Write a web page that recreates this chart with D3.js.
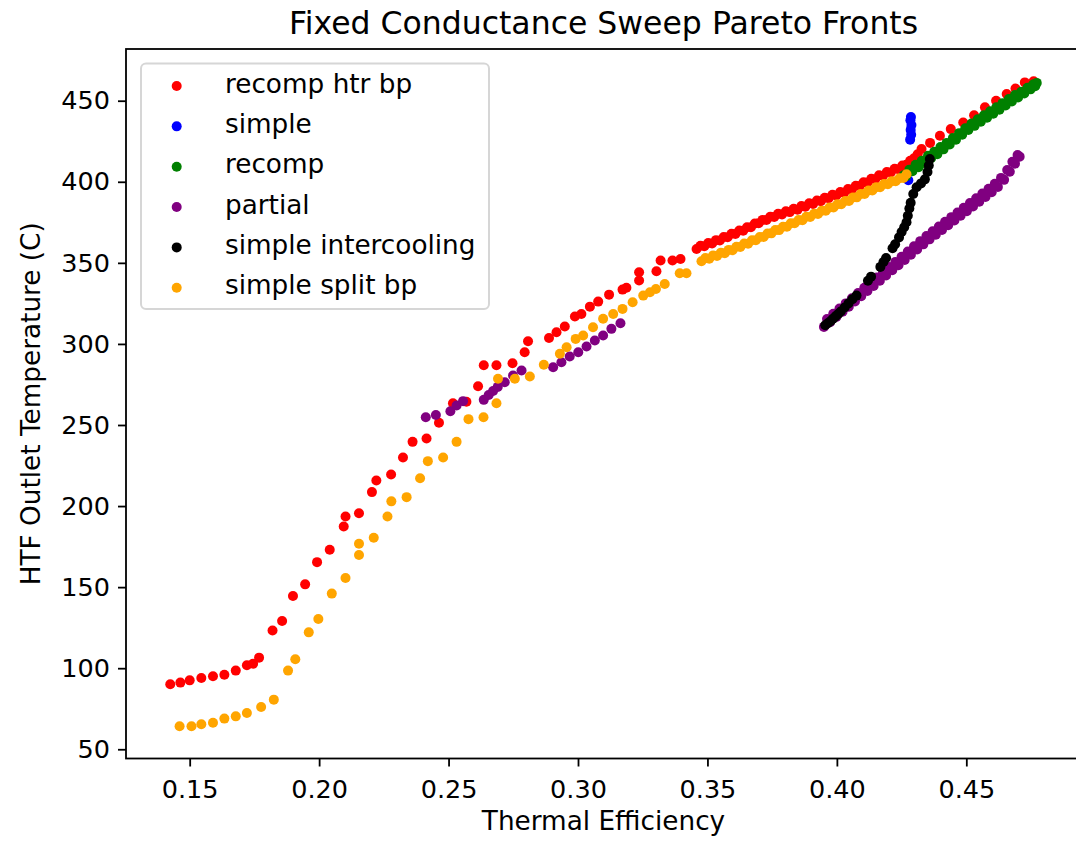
<!DOCTYPE html>
<html>
<head>
<meta charset="utf-8">
<script src="https://cdnjs.cloudflare.com/ajax/libs/d3/7.8.5/d3.min.js"></script>
<style>
  body { margin: 0; background: #fff; }
  svg text { font-family: "DejaVu Sans", sans-serif; fill: #000; }
</style>
</head>
<body>
<div id="chart"></div>
<script>
// Legend order = plotting order
var seriesNames = ["recomp htr bp", "simple", "recomp", "partial", "simple intercooling", "simple split bp"];
var seriesColors = ["red", "blue", "green", "purple", "black", "orange"];

var xTicks = [0.15, 0.20, 0.25, 0.30, 0.35, 0.40, 0.45];
var yTicks = [50, 100, 150, 200, 250, 300, 350, 400, 450];

// [thermal efficiency, HTF outlet temperature]
var recompHtrBp = [
    [0.1425, 90.1], [0.1464, 91.1], [0.1500, 92.5], [0.1545, 93.9], [0.1590, 95.0], [0.1634, 96.0],
    [0.1678, 98.5], [0.1721, 101.8], [0.1745, 102.8], [0.1768, 106.5], [0.1820, 123.3], [0.1857, 129.1],
    [0.1899, 144.5], [0.1946, 151.7], [0.1992, 165.4], [0.2041, 173.1], [0.2095, 187.4], [0.2102, 193.6],
    [0.2154, 195.6], [0.2204, 208.6], [0.2221, 215.8], [0.2278, 219.5], [0.2324, 230.0], [0.2361, 239.6],
    [0.2415, 241.7], [0.2463, 251.4], [0.2517, 263.4], [0.2569, 264.3], [0.2614, 273.9], [0.2636, 286.9],
    [0.2685, 286.9], [0.2747, 288.1], [0.2794, 294.9], [0.2807, 301.7], [0.2888, 303.7], [0.2917, 307.2],
    [0.2949, 310.7], [0.2988, 316.9], [0.3013, 318.5], [0.3046, 323.0], [0.3078, 326.1], [0.3120, 330.4],
    [0.3172, 333.5], [0.3187, 334.6], [0.3236, 339.1], [0.3236, 344.2], [0.3303, 344.8], [0.3319, 351.4],
    [0.3365, 351.4], [0.3396, 352.4],
    [0.3458, 358.6], [0.3473, 360.5], [0.3488, 360.3], [0.3503, 362.2], [0.3518, 362.0], [0.3533, 364.0],
    [0.3548, 363.8], [0.3563, 366.0], [0.3578, 365.8], [0.3593, 368.0], [0.3608, 367.8], [0.3623, 370.0],
    [0.3638, 369.8], [0.3653, 372.0], [0.3668, 372.0], [0.3683, 374.3], [0.3698, 374.5], [0.3713, 376.5],
    [0.3728, 376.5], [0.3743, 378.5], [0.3758, 378.3], [0.3773, 380.3], [0.3788, 379.8], [0.3803, 381.8],
    [0.3818, 381.3], [0.3833, 383.3], [0.3848, 382.8], [0.3863, 385.0], [0.3878, 384.6], [0.3893, 386.8],
    [0.3908, 386.3], [0.3923, 388.5], [0.3938, 388.0], [0.3953, 390.2], [0.3968, 389.8], [0.3983, 392.0],
    [0.3998, 391.5], [0.4013, 393.7], [0.4028, 393.3], [0.4043, 395.5], [0.4058, 395.3], [0.4073, 397.6],
    [0.4088, 397.4], [0.4103, 399.7], [0.4118, 399.5], [0.4133, 401.8], [0.4148, 401.6], [0.4163, 404.0],
    [0.4178, 403.8], [0.4193, 406.0], [0.4208, 405.8], [0.4223, 408.0], [0.4238, 407.8], [0.4253, 410.0],
    [0.4268, 410.5], [0.4283, 413.0], [0.4298, 414.5], [0.4312, 417.0],
    [0.4327, 420.2], [0.4360, 424.0], [0.4398, 428.4], [0.4440, 432.5], [0.4488, 436.6], [0.4530, 441.0],
    [0.4572, 445.9], [0.4615, 450.0], [0.4656, 454.1], [0.4690, 457.5], [0.4726, 461.3], [0.4760, 462.0]
];

var simple = [
    [0.4276, 401.0], [0.4283, 426.0], [0.4287, 429.0], [0.4285, 432.0], [0.4288, 435.0], [0.4284, 438.0],
    [0.4286, 440.0]
];

var recomp = [
    [0.4258, 404.0], [0.4268, 403.5], [0.4280, 407.5], [0.4292, 406.5], [0.4304, 410.5], [0.4316, 409.0],
    [0.4328, 413.0], [0.4340, 411.5], [0.4352, 416.0], [0.4364, 414.5], [0.4376, 418.5], [0.4388, 417.0],
    [0.4400, 421.5], [0.4412, 420.0], [0.4424, 424.0], [0.4436, 423.0], [0.4448, 427.0], [0.4460, 426.0],
    [0.4472, 430.0], [0.4484, 429.0], [0.4496, 433.0], [0.4508, 432.0], [0.4520, 436.0], [0.4532, 434.5],
    [0.4544, 438.5], [0.4556, 437.0], [0.4568, 441.0], [0.4580, 439.5], [0.4592, 443.5], [0.4604, 442.0],
    [0.4616, 446.0], [0.4628, 444.5], [0.4640, 448.5], [0.4652, 447.0], [0.4664, 451.0], [0.4676, 449.5],
    [0.4688, 453.5], [0.4700, 452.0], [0.4712, 455.5], [0.4724, 454.5], [0.4736, 458.0], [0.4748, 457.0],
    [0.4758, 460.0], [0.4766, 459.0], [0.4772, 461.0]
];

var partial = [
    [0.2412, 254.8], [0.2451, 256.2], [0.2507, 258.5], [0.2531, 262.0], [0.2556, 264.7], [0.2636, 265.5],
    [0.2655, 268.5], [0.2672, 271.0], [0.2690, 273.5], [0.2717, 276.4], [0.2749, 280.5], [0.2782, 283.6],
    [0.2904, 285.6], [0.2936, 288.7], [0.2968, 292.2], [0.3001, 294.9], [0.3033, 298.4], [0.3065, 302.1],
    [0.3097, 305.2], [0.3129, 309.3], [0.3164, 312.7],
    [0.3950, 310.5], [0.3962, 315.4], [0.3974, 313.4], [0.3986, 318.6], [0.3998, 316.6], [0.4010, 321.8],
    [0.4022, 319.8], [0.4034, 325.0], [0.4046, 323.0], [0.4058, 328.2], [0.4070, 326.2], [0.4082, 331.4],
    [0.4094, 329.4], [0.4106, 334.6], [0.4118, 332.6], [0.4130, 337.8], [0.4142, 335.8], [0.4154, 341.0],
    [0.4166, 339.0], [0.4178, 344.2], [0.4190, 342.2], [0.4202, 347.4], [0.4214, 345.4], [0.4226, 350.6],
    [0.4238, 348.6], [0.4250, 353.8], [0.4262, 351.8], [0.4274, 357.0], [0.4286, 355.0], [0.4298, 360.2],
    [0.4310, 358.2], [0.4322, 363.4], [0.4334, 361.4], [0.4346, 366.6], [0.4358, 364.5], [0.4370, 369.5],
    [0.4382, 367.4], [0.4394, 372.4], [0.4406, 370.3], [0.4418, 375.3], [0.4430, 373.2], [0.4442, 378.2],
    [0.4454, 376.1], [0.4466, 381.1], [0.4478, 379.0], [0.4490, 384.0], [0.4502, 381.9], [0.4514, 386.9],
    [0.4526, 384.8], [0.4538, 389.8], [0.4550, 387.7], [0.4562, 392.7], [0.4574, 390.6], [0.4586, 395.7],
    [0.4598, 393.6], [0.4610, 398.8], [0.4622, 396.8], [0.4634, 402.4], [0.4646, 401.2], [0.4658, 407.3],
    [0.4668, 406.2], [0.4678, 412.3], [0.4688, 411.2], [0.4698, 416.5], [0.4706, 415.5]
];

var simpleIntercooling = [
    [0.3955, 311.5], [0.3965, 312.8], [0.3975, 314.0], [0.3985, 315.5], [0.3995, 317.0], [0.4005, 318.5],
    [0.4015, 320.0], [0.4030, 322.5], [0.4045, 325.0], [0.4060, 327.5], [0.4076, 329.8], [0.4120, 339.0],
    [0.4132, 341.5], [0.4168, 347.5], [0.4180, 350.5], [0.4190, 353.0], [0.4215, 359.0], [0.4225, 361.5],
    [0.4240, 365.7], [0.4250, 369.0], [0.4260, 372.0], [0.4269, 375.0], [0.4274, 379.0], [0.4280, 383.5],
    [0.4285, 387.0], [0.4295, 392.5], [0.4308, 396.6], [0.4325, 399.0], [0.4340, 401.5], [0.4350, 406.0],
    [0.4355, 410.0], [0.4359, 414.0]
];

var simpleSplitBp = [
    [0.1461, 64.2], [0.1507, 64.2], [0.1545, 65.4], [0.1590, 66.4], [0.1634, 68.9], [0.1678, 70.3],
    [0.1721, 72.4], [0.1776, 76.1], [0.1825, 80.6], [0.1880, 98.5], [0.1908, 105.5], [0.1960, 122.1],
    [0.1997, 130.3], [0.2049, 146.0], [0.2102, 155.6], [0.2154, 169.8], [0.2154, 176.8], [0.2211, 180.5],
    [0.2264, 193.6], [0.2279, 202.9], [0.2338, 205.5], [0.2390, 217.2], [0.2420, 227.7], [0.2479, 230.0],
    [0.2531, 239.6], [0.2577, 253.6], [0.2635, 254.8], [0.2685, 263.4], [0.2691, 278.5], [0.2756, 278.5],
    [0.2814, 279.9], [0.2868, 287.1], [0.2930, 293.9], [0.2956, 298.0], [0.2991, 303.1], [0.3020, 305.2],
    [0.3058, 310.3], [0.3097, 315.5], [0.3136, 318.5], [0.3172, 321.6], [0.3211, 325.7], [0.3252, 329.8],
    [0.3278, 331.9], [0.3301, 333.9], [0.3335, 337.0], [0.3393, 343.6], [0.3419, 343.6],
    [0.3477, 351.0], [0.3492, 353.0], [0.3507, 352.6], [0.3522, 354.6], [0.3537, 354.3], [0.3552, 356.3],
    [0.3567, 356.0], [0.3582, 358.0], [0.3597, 357.8], [0.3612, 359.9], [0.3627, 359.8], [0.3642, 361.9],
    [0.3657, 361.8], [0.3672, 363.9], [0.3687, 364.0], [0.3702, 366.0], [0.3717, 366.0], [0.3732, 368.1],
    [0.3747, 368.2], [0.3762, 370.2], [0.3777, 370.2], [0.3792, 372.3], [0.3807, 372.3], [0.3822, 374.4],
    [0.3837, 374.4], [0.3852, 376.4], [0.3867, 376.3], [0.3882, 378.4], [0.3897, 378.3], [0.3912, 380.3],
    [0.3927, 380.2], [0.3942, 382.2], [0.3957, 382.2], [0.3972, 384.2], [0.3987, 384.1], [0.4002, 386.2],
    [0.4017, 386.2], [0.4032, 388.2], [0.4047, 388.2], [0.4062, 390.3], [0.4077, 390.4], [0.4092, 392.5],
    [0.4107, 392.5], [0.4122, 394.6], [0.4137, 394.6], [0.4152, 396.7], [0.4167, 396.6], [0.4182, 398.6],
    [0.4197, 398.5], [0.4212, 400.4], [0.4227, 400.3], [0.4242, 402.2], [0.4257, 402.4], [0.4269, 404.6]
];

var seriesData = [recompHtrBp, simple, recomp, partial, simpleIntercooling, simpleSplitBp];

document.addEventListener("DOMContentLoaded", function() {
    var w = 1076;
    var h = 843;

    // plot box (right spine falls just outside the picture)
    var left = 126, right = 1081, top = 49, bottom = 758.5;

    var xScale = d3.scaleLinear()
        .domain([0.1254, 0.4943])
        .range([left, right]);

    var yScale = d3.scaleLinear()
        .domain([44.3, 481.9])
        .range([bottom, top]);

    var svg = d3.select("#chart")
        .append("svg")
        .attr("width", w)
        .attr("height", h);

    svg.append("rect")
        .attr("width", w)
        .attr("height", h)
        .attr("fill", "#fff");

    // Scatter points
    seriesData.forEach(function(pts, i) {
        svg.append("g")
            .selectAll("circle")
            .data(pts)
            .enter()
            .append("circle")
            .attr("cx", function(d) { return xScale(d[0]); })
            .attr("cy", function(d) { return yScale(d[1]); })
            .attr("r", 5)
            .attr("fill", seriesColors[i]);
    });

    // Frame
    svg.append("rect")
        .attr("x", left)
        .attr("y", top)
        .attr("width", right - left)
        .attr("height", bottom - top)
        .attr("fill", "none")
        .attr("stroke", "#000")
        .attr("stroke-width", 1.8);

    // x axis
    var xAxis = svg.append("g")
        .attr("transform", "translate(0," + bottom + ")")
        .call(d3.axisBottom(xScale)
            .tickValues(xTicks)
            .tickFormat(d3.format(".2f"))
            .tickSizeOuter(0)
            .tickSize(8)
            .tickPadding(13));
    xAxis.select(".domain").remove();
    xAxis.selectAll(".tick line").attr("stroke-width", 1.8);
    xAxis.selectAll("text")
        .attr("font-size", 25.5)
        .attr("font-family", "DejaVu Sans");

    // y axis
    var yAxis = svg.append("g")
        .attr("transform", "translate(" + left + ",0)")
        .call(d3.axisLeft(yScale)
            .tickValues(yTicks)
            .tickSizeOuter(0)
            .tickSize(8)
            .tickPadding(8));
    yAxis.select(".domain").remove();
    yAxis.selectAll(".tick line").attr("stroke-width", 1.8);
    yAxis.selectAll("text")
        .attr("font-size", 25.5)
        .attr("font-family", "DejaVu Sans");

    // Title and axis labels
    svg.append("text")
        .attr("x", (left + right) / 2)
        .attr("y", 34)
        .attr("text-anchor", "middle")
        .attr("font-size", 31.5)
        .text("Fixed Conductance Sweep Pareto Fronts");

    svg.append("text")
        .attr("x", (left + right) / 2)
        .attr("y", 830)
        .attr("text-anchor", "middle")
        .attr("font-size", 26.3)
        .text("Thermal Efficiency");

    svg.append("text")
        .attr("transform", "translate(40," + (top + bottom) / 2 + ") rotate(-90)")
        .attr("text-anchor", "middle")
        .attr("font-size", 26.3)
        .text("HTF Outlet Temperature (C)");

    // Legend
    var legend = svg.append("g");
    legend.append("rect")
        .attr("x", 141)
        .attr("y", 63.5)
        .attr("width", 348)
        .attr("height", 245.5)
        .attr("rx", 5)
        .attr("fill", "#fff")
        .attr("fill-opacity", 0.8)
        .attr("stroke", "#d6d6d6")
        .attr("stroke-width", 2);

    var rows = legend.selectAll(".row")
        .data(seriesNames)
        .enter()
        .append("g")
        .attr("transform", function(d, i) {
            return "translate(0," + (86 + i * 40.35) + ")";
        });

    rows.append("circle")
        .attr("cx", 176.7)
        .attr("cy", 0)
        .attr("r", 5)
        .attr("fill", function(d, i) { return seriesColors[i]; });

    rows.append("text")
        .attr("x", 225)
        .attr("y", 6.5)
        .attr("font-size", 26.3)
        .text(function(d) { return d; });
});
</script>
</body>
</html>
